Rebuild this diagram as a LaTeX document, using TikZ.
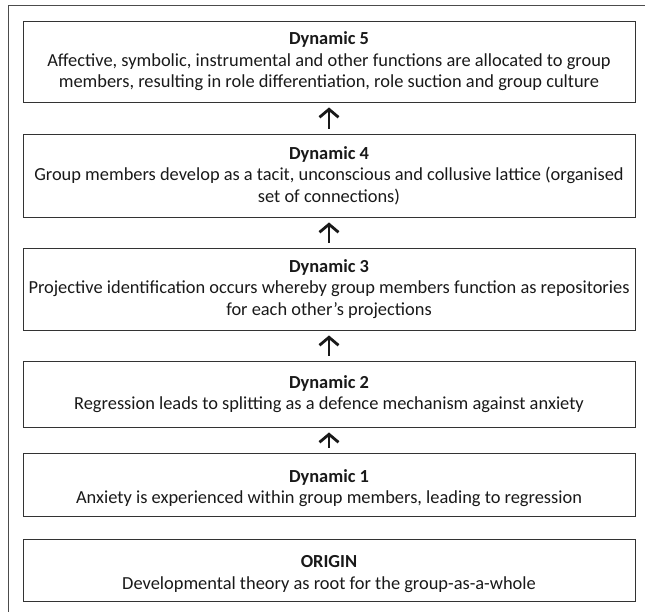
\documentclass[tikz,border=0pt]{standalone}
\usepackage{fontspec}
\setmainfont{Carlito}
\usetikzlibrary{arrows.meta}
\newcommand{\lowstrut}{\rule{0pt}{20pt}}
\begin{document}
\begin{tikzpicture}[x=1pt,y=-1pt,
  box/.style={draw=black!80, line width=0.9pt, minimum width=612pt, inner sep=0pt,
    align=center, font=\fontsize{18.4}{21.5}\selectfont, text=black!90},
  up/.style={-{Straight Barb[length=8pt,width=19pt]}, line width=2.8pt, black!90,
    shorten <=5pt, shorten >=5pt},
  frameline/.style={black!70, line width=0.8pt}]
\useasboundingbox (0,0) rectangle (645,612);
\draw[frameline] (8,612) -- (8,5) -- (645,5);
\node[box, minimum height=81pt] (d5) at (329,61.5)
  {\textbf{Dynamic 5}\\Affective, symbolic, instrumental and other functions are allocated to group\\members, resulting in role differentiation, role suction and group culture};
\node[box, minimum height=83pt] (d4) at (329,175.5)
  {\textbf{Dynamic 4}\\Group members develop as a tacit, unconscious and collusive lattice (organised\\set of connections)};
\node[box, minimum height=82pt] (d3) at (329,289)
  {\textbf{Dynamic 3}\\Projective identification occurs whereby group members function as repositories\\for each other’s projections};
\node[box, minimum height=66pt] (d2) at (329,394)
  {\textbf{Dynamic 2}\\Regression leads to splitting as a defence mechanism against anxiety};
\node[box, minimum height=63pt] (d1) at (329,484.5)
  {\lowstrut\textbf{Dynamic 1}\\Anxiety is experienced within group members, leading to regression};
\node[box, minimum height=62pt] (o) at (329,570)
  {\lowstrut\textbf{ORIGIN}\\Developmental theory as root for the group-as-a-whole};
\draw[up] (d4) -- (d5);
\draw[up] (d3) -- (d4);
\draw[up] (d2) -- (d3);
\draw[up] (d1) -- (d2);
\end{tikzpicture}
\end{document}
